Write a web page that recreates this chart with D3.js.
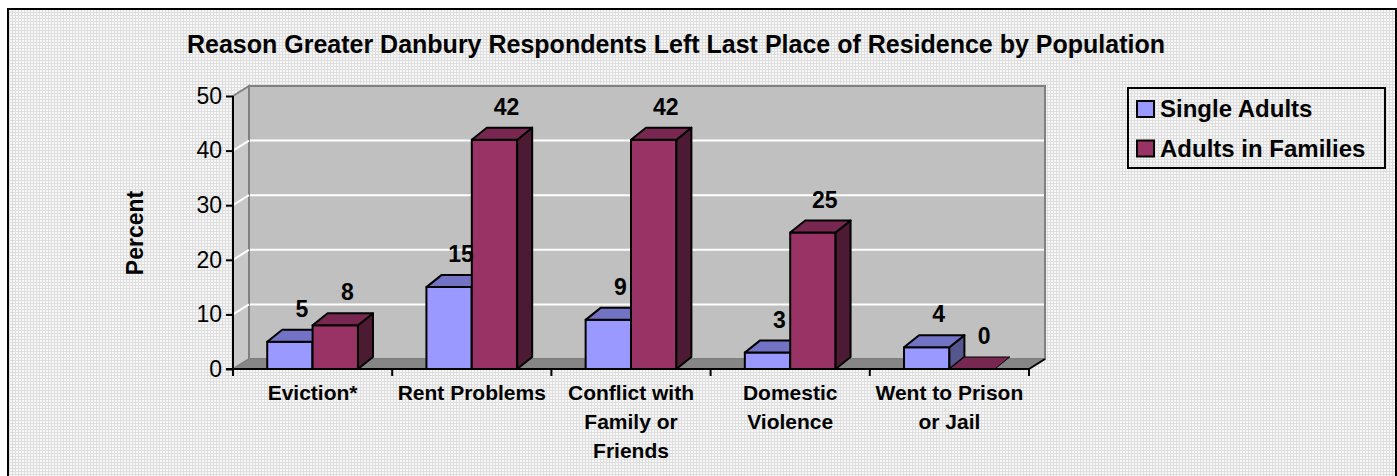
<!DOCTYPE html>
<html>
<head>
<meta charset="utf-8">
<script src="https://cdn.jsdelivr.net/npm/d3@7"></script>
<style>
  body { margin: 0; background: #fff; }
  svg { display: block; font-family: "Liberation Sans", Arial, sans-serif; }
</style>
</head>
<body>
<svg id="chart" width="1397" height="476"></svg>
<script>

// Chart data
var categories = [
    ["Eviction*"],
    ["Rent Problems"],
    ["Conflict with", "Family or", "Friends"],
    ["Domestic", "Violence"],
    ["Went to Prison", "or Jail"]
];
var seriesNames = ["Single Adults", "Adults in Families"];
var singleAdults = [5, 15, 9, 3, 4];
var adultsInFamilies = [8, 42, 42, 25, 0];
var yTicks = [0, 10, 20, 30, 40, 50];

var svg = d3.select('#chart');

// Colours for each series: front, top, side
var colors = [
    {front: "#9999ff", top: "#7373c6", side: "#56568f"},
    {front: "#993366", top: "#782850", side: "#4d1a33"}
];

/*****************************/
// Background texture + frame
/*****************************/

var defs = svg.append('defs');
var pat = defs.append('pattern')
    .attr('id', 'bgpat')
    .attr('width', 3)
    .attr('height', 3)
    .attr('patternUnits', 'userSpaceOnUse');
pat.append('rect').attr('width', 3).attr('height', 3).attr('fill', '#f7f7f7');
pat.append('rect').attr('width', 3).attr('height', 1).attr('fill', '#dedede');
pat.append('rect').attr('width', 1).attr('height', 3).attr('fill', '#dedede');

svg.append('rect')
    .attr('x', 8).attr('y', 9)
    .attr('width', 1388).attr('height', 480)
    .attr('fill', 'url(#bgpat)')
    .attr('stroke', '#000')
    .attr('stroke-width', 2);

// Title
svg.append('text')
    .attr('x', 676)
    .attr('y', 53)
    .attr('text-anchor', 'middle')
    .attr('font-size', '25px')
    .attr('font-weight', 'bold')
    .text("Reason Greater Danbury Respondents Left Last Place of Residence by Population");

/*****************************/
// Scales
/*****************************/

var margin = {left: 233, right: 1029, top: 96, bottom: 369};
var wallDx = 16, wallDy = -10;   // depth of the back wall
var barDx = 15, barDy = -12;     // depth of each bar

var x = d3.scaleBand()
    .domain(d3.range(categories.length))
    .range([margin.left, margin.right]);

var y = d3.scaleLinear()
    .domain([0, 50])
    .range([margin.bottom, margin.top]);

var barW = x.bandwidth() * 0.285;

/*****************************/
// Walls and floor
/*****************************/

var x0 = margin.left, x1 = margin.right;
var yTop = y(50), yBot = y(0);

// back wall
svg.append('polygon')
    .attr('points', [[x0 + wallDx, yTop + wallDy], [x1 + wallDx, yTop + wallDy],
                     [x1 + wallDx, yBot + wallDy], [x0 + wallDx, yBot + wallDy]].join(' '))
    .attr('fill', '#c0c0c0')
    .attr('stroke', '#808080')
    .attr('stroke-width', 2);

// side wall
svg.append('polygon')
    .attr('points', [[x0, yTop], [x0 + wallDx, yTop + wallDy],
                     [x0 + wallDx, yBot + wallDy], [x0, yBot]].join(' '))
    .attr('fill', '#c8c8c8')
    .attr('stroke', '#808080')
    .attr('stroke-width', 2);

// floor
svg.append('polygon')
    .attr('points', [[x0, yBot], [x0 + wallDx, yBot + wallDy],
                     [x1 + wallDx, yBot + wallDy], [x1, yBot]].join(' '))
    .attr('fill', '#868686')
    .attr('stroke', '#808080')
    .attr('stroke-width', 1);

// gridlines (back wall + side wall)
var grid = yTicks.filter(function(d) { return d > 0 && d < 50; });
svg.selectAll('.grid-back').data(grid).enter().append('line')
    .attr('x1', x0 + wallDx + 1).attr('x2', x1 + wallDx - 1)
    .attr('y1', function(d) { return y(d) + wallDy; })
    .attr('y2', function(d) { return y(d) + wallDy; })
    .attr('stroke', '#fff').attr('stroke-width', 2);
svg.selectAll('.grid-side').data(grid).enter().append('line')
    .attr('x1', x0).attr('x2', x0 + wallDx)
    .attr('y1', function(d) { return y(d); })
    .attr('y2', function(d) { return y(d) + wallDy; })
    .attr('stroke', '#fff').attr('stroke-width', 2);

/*****************************/
// Bars
/*****************************/

var series = [singleAdults, adultsInFamilies];

function drawBar(g, bx, val, c) {
    var yt = y(val), yb = y(0);
    var bx2 = bx + barW;
    var strokeW = 2;
    if (val > 0) {
        g.append('polygon')
            .attr('points', [[bx, yt], [bx2, yt], [bx2, yb], [bx, yb]].join(' '))
            .attr('fill', c.front).attr('stroke', '#000').attr('stroke-width', strokeW)
            .attr('stroke-linejoin', 'round');
        g.append('polygon')
            .attr('points', [[bx2, yt], [bx2 + barDx, yt + barDy], [bx2 + barDx, yb + barDy], [bx2, yb]].join(' '))
            .attr('fill', c.side).attr('stroke', '#000').attr('stroke-width', strokeW)
            .attr('stroke-linejoin', 'round');
        g.append('polygon')
            .attr('points', [[bx, yt], [bx + barDx, yt + barDy], [bx2 + barDx, yt + barDy], [bx2, yt]].join(' '))
            .attr('fill', c.top).attr('stroke', '#000').attr('stroke-width', strokeW)
            .attr('stroke-linejoin', 'round');
    } else {
        // flat top only
        g.append('polygon')
            .attr('points', [[bx, yt], [bx + barDx, yt + barDy], [bx2 + barDx, yt + barDy], [bx2, yt]].join(' '))
            .attr('fill', c.top).attr('stroke', '#000').attr('stroke-width', 1);
    }
}

var bars = svg.append('g').attr('class', 'bars');
categories.forEach(function(cat, i) {
    var cx = x(i) + x.bandwidth() / 2;
    series.forEach(function(s, k) {
        var bx = cx - barW + k * barW;
        drawBar(bars, bx, s[i], colors[k]);
    });
});

// value labels
categories.forEach(function(cat, i) {
    var cx = x(i) + x.bandwidth() / 2;
    series.forEach(function(s, k) {
        var bx = cx - barW + k * barW;
        svg.append('text')
            .attr('x', bx + barW / 2 + 12)
            .attr('y', y(s[i]) + barDy - 13)
            .attr('text-anchor', 'middle')
            .attr('font-size', '23px')
            .attr('font-weight', 'bold')
            .text(s[i]);
    });
});

/*****************************/
// Axes
/*****************************/

var yAxis = svg.append('g')
    .attr('transform', 'translate(' + x0 + ',0)')
    .call(d3.axisLeft(y).tickValues(yTicks).tickSize(7).tickPadding(4));
yAxis.select('.domain').attr('stroke', '#000').attr('stroke-width', 2)
    .attr('d', 'M0,' + yTop + 'V' + yBot);
yAxis.selectAll('.tick line').attr('stroke', '#000').attr('stroke-width', 2);
yAxis.selectAll('.tick text')
    .attr('font-size', '23px')
    .attr('font-family', '"Liberation Sans", Arial, sans-serif')
    .attr('fill', '#000');

// x axis line + tick marks at category boundaries
svg.append('line')
    .attr('x1', x0 - 7).attr('x2', x1)
    .attr('y1', yBot).attr('y2', yBot)
    .attr('stroke', '#000').attr('stroke-width', 2);
svg.append('line')
    .attr('x1', x1).attr('x2', x1 + wallDx)
    .attr('y1', yBot).attr('y2', yBot + wallDy)
    .attr('stroke', '#000').attr('stroke-width', 2);
var bounds = d3.range(categories.length + 1).map(function(i) {
    return i < categories.length ? x(i) : x1;
});
svg.selectAll('.xtick').data(bounds).enter().append('line')
    .attr('x1', function(d) { return d; })
    .attr('x2', function(d) { return d; })
    .attr('y1', yBot).attr('y2', yBot + 7)
    .attr('stroke', '#000').attr('stroke-width', 2);

// category labels
categories.forEach(function(lines, i) {
    var t = svg.append('text')
        .attr('x', x(i) + x.bandwidth() / 2)
        .attr('y', 400)
        .attr('text-anchor', 'middle')
        .attr('font-size', '21px')
        .attr('font-weight', 'bold');
    lines.forEach(function(line, j) {
        t.append('tspan')
            .attr('x', x(i) + x.bandwidth() / 2)
            .attr('dy', j === 0 ? 0 : 29)
            .text(line);
    });
});

// y axis title
svg.append('text')
    .attr('transform', 'translate(143,233) rotate(-90)')
    .attr('text-anchor', 'middle')
    .attr('font-size', '23px')
    .attr('font-weight', 'bold')
    .text("Percent");

/*****************************/
// Legend
/*****************************/

var legend = svg.append('g');
legend.append('rect')
    .attr('x', 1128).attr('y', 88)
    .attr('width', 257).attr('height', 80)
    .attr('fill', 'none')
    .attr('stroke', '#000')
    .attr('stroke-width', 2);

seriesNames.forEach(function(name, k) {
    var ly = 101 + k * 39.5;
    legend.append('rect')
        .attr('x', 1137).attr('y', ly)
        .attr('width', 17).attr('height', 16)
        .attr('fill', colors[k].front)
        .attr('stroke', '#000')
        .attr('stroke-width', 2);
    legend.append('text')
        .attr('x', 1160).attr('y', ly + 16)
        .attr('font-size', '24px')
        .attr('font-weight', 'bold')
        .text(name);
});

</script>
</body>
</html>
